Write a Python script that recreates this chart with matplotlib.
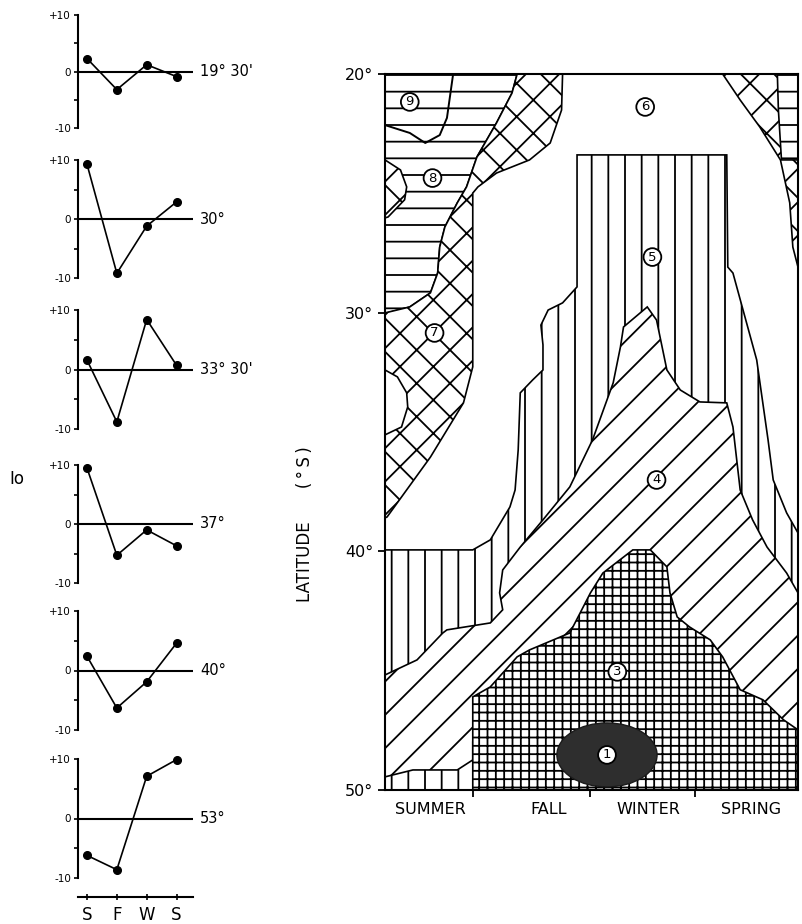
import matplotlib.pyplot as plt
from matplotlib.patches import Ellipse

plt.rcParams['font.family'] = 'DejaVu Sans'
plt.rcParams['hatch.linewidth'] = 1.3

W, H = 803, 924

# ---- left column: Io anomaly by season at each latitude ----
season_ticks = ['S', 'F', 'W', 'S']
station_labels = ["19° 30'", "30°", "33° 30'", "37°", "40°", "53°"]
io_19_30 = [2.3, -3.2, 1.2, -0.9]
io_30 = [9.3, -9.2, -1.2, 2.9]
io_33_30 = [1.6, -8.8, 8.4, 0.7]
io_37 = [9.5, -5.3, -1.0, -3.7]
io_40 = [2.4, -6.3, -1.9, 4.6]
io_53 = [-6.2, -8.6, 7.1, 9.9]
io_series = [io_19_30, io_30, io_33_30, io_37, io_40, io_53]

# ---- right panel: zones in (season position, latitude) ----
season_names = ['SUMMER', 'FALL', 'WINTER', 'SPRING']
season_name_pos = [0.44, 1.58, 2.55, 3.55]
season_bounds = [0.85, 1.99, 3.0]
lat_ticks = [20, 30, 40, 50]

zone_89_x = [0, 1.28, 1.23, 1.08, 0.89, 0.79, 0.70, 0.58, 0.53, 0.51, 0.44, 0.24, 0.02, 0]
zone_89_y = [20, 20, 20.8, 22.05, 23.48, 24.73, 25.40, 26.41, 27.25, 28.34, 29.17, 29.76, 30.01, 30.01]

zone_9_edge_x = [0, 0.24, 0.39, 0.53, 0.60, 0.66]
zone_9_edge_y = [22.14, 22.47, 22.89, 22.56, 21.84, 20.0]

zone_7_x = [1.28, 1.23, 1.08, 0.89, 0.79, 0.70, 0.58, 0.53, 0.51, 0.44, 0.24, 0, 0,
            0.02, 0.44, 0.76, 0.85, 0.85, 0.90, 1.08, 1.40, 1.60, 1.71, 1.72]
zone_7_y = [20, 20.8, 22.05, 23.48, 24.73, 25.40, 26.41, 27.25, 28.34, 29.17, 29.76, 30.01, 38.6,
            38.56, 36.05, 33.78, 32.27, 24.99, 24.73, 24.15, 23.60, 22.89, 21.51, 20]

lens_7_x = [0, 0.15, 0.21, 0.19, 0.03, 0]
lens_7_y = [23.6, 24.02, 24.73, 25.27, 25.99, 26.03]

gap_7_x = [0, 0.12, 0.21, 0.22, 0.16, 0]
gap_7_y = [32.4, 32.69, 33.36, 33.95, 34.79, 35.12]

corner_x = [3.27, 4, 4, 3.95, 3.92, 3.83, 3.63, 3.44]
corner_y = [20, 20, 28.09, 27.25, 25.40, 23.60, 22.22, 21.09]
corner_strip_x = [3.80, 4, 4, 3.84, 3.81]
corner_strip_y = [20, 20, 23.6, 23.6, 21.5]

zone_5_x = [1.86, 3.31, 3.32, 3.37, 3.60, 3.71, 3.76, 3.89, 4.0, 4.0, 0, 0, 0.85, 1.02,
            1.21, 1.26, 1.29, 1.31, 1.43, 1.53, 1.53, 1.51, 1.58, 1.72, 1.86]
zone_5_y = [23.39, 23.39, 28.09, 28.34, 31.98, 35.33, 37.01, 38.39, 39.23, 50, 50, 39.94, 39.94, 39.52,
            38.14, 37.43, 35.75, 33.36, 32.82, 32.40, 31.35, 30.52, 29.89, 29.59, 28.92]

zone_4_x = [2.54, 2.63, 2.73, 2.86, 3.05, 3.31, 3.37, 3.44, 3.56, 3.70, 3.89, 4.0, 4.0,
            0.85, 0.85, 0.70, 0.27, 0, 0, 0.31, 0.56, 0.60, 1.02, 1.14, 1.11, 1.14,
            1.31, 1.53, 1.79, 2.01, 2.21, 2.28, 2.31]
zone_4_y = [29.76, 30.31, 32.40, 33.24, 33.74, 33.78, 34.79, 37.43, 38.68, 39.82, 40.91, 41.74, 48.0,
            48.0, 48.74, 49.16, 49.16, 49.45, 45.18, 44.55, 43.42, 43.29, 43.0, 42.45, 41.74, 40.78,
            39.82, 38.68, 37.30, 35.33, 32.94, 31.44, 30.60]

zone_3_x = [0.85, 0.85, 1.02, 1.28, 1.40, 1.79, 1.99, 2.11, 2.40, 2.57, 2.73, 2.76, 2.83,
            2.95, 3.15, 3.27, 3.44, 3.66, 3.86, 4.0, 4.0]
zone_3_y = [50, 46.10, 45.68, 44.42, 44.13, 43.42, 41.74, 40.91, 39.94, 39.94, 40.65, 41.74, 42.75,
            43.17, 43.71, 44.42, 45.80, 46.22, 47.06, 47.48, 50]

zone_1_center = (2.15, 48.53)
zone_1_size = (0.97, 2.68)

zone_ids = ['9', '8', '7', '6', '5', '4', '3', '1']
zone_id_x = [0.24, 0.46, 0.48, 2.52, 2.59, 2.63, 2.25, 2.15]
zone_id_y = [21.17, 24.36, 30.85, 21.38, 27.67, 37.01, 45.05, 48.53]


def px_box(left, top, right, bottom):
    return [left / W, 1 - bottom / H, (right - left) / W, (bottom - top) / H]


fig = plt.figure(figsize=(W / 100, H / 100), dpi=100)

panel_rows = [(15, 128), (160, 278), (310, 429), (465, 583), (611, 730), (759, 878)]
for i, (top, bottom) in enumerate(panel_rows):
    ax = fig.add_axes(px_box(78, top, 193, bottom))
    ax.set_xlim(-0.3, 3.55)
    ax.set_ylim(-10, 10)
    ax.axhline(0, color='black', lw=1.5)
    ax.plot(range(4), io_series[i], color='black', lw=1.2, marker='o', ms=5.5, clip_on=False)
    for side in ['top', 'right']:
        ax.spines[side].set_visible(False)
    ax.spines['left'].set_linewidth(1.5)
    ax.set_yticks([-10, 0, 10])
    ax.set_yticklabels(['-10', '0', '+10'], fontsize=7.5)
    ax.set_yticks([-5, 5], minor=True)
    ax.tick_params(axis='y', which='both', direction='out', length=3, width=1.2, pad=2)
    ax.annotate(station_labels[i], (1.06, 0), xycoords=('axes fraction', 'data'),
                ha='left', va='center', fontsize=10.5)
    if i < len(panel_rows) - 1:
        ax.spines['bottom'].set_visible(False)
        ax.set_xticks([])
    else:
        ax.spines['bottom'].set_position(('outward', 14))
        ax.spines['bottom'].set_linewidth(1.5)
        ax.set_xticks(range(4))
        ax.set_xticklabels(season_ticks, fontsize=12)
        ax.tick_params(axis='x', direction='inout', length=5, width=1.2, pad=4)

fig.text(17 / W, 1 - 479 / H, 'Io', fontsize=12, ha='center', va='center')

# ---- zone map ----
ax = fig.add_axes(px_box(385, 74, 798, 790))
ax.set_xlim(0, 4)
ax.set_ylim(50, 20)

def zone(xs, ys, hatch):
    ax.fill(xs, ys, facecolor='white', edgecolor='black', hatch=hatch, lw=1.2)

zone(zone_89_x, zone_89_y, '-')
zone(zone_7_x, zone_7_y, 'x')
zone(lens_7_x, lens_7_y, 'x')
zone(gap_7_x, gap_7_y, None)
ax.plot(zone_9_edge_x, zone_9_edge_y, color='black', lw=1.4)
zone(corner_x, corner_y, 'x')
zone(corner_strip_x, corner_strip_y, '-')
zone(zone_5_x, zone_5_y, '|')
zone(zone_4_x, zone_4_y, '/')
zone(zone_3_x, zone_3_y, '++')
ax.add_patch(Ellipse(zone_1_center, zone_1_size[0], zone_1_size[1], angle=0,
                     facecolor='#2e2e2e', edgecolor='#1a1a1a', lw=1))

for label, x, y in zip(zone_ids, zone_id_x, zone_id_y):
    ax.text(x, y, label, ha='center', va='center', fontsize=9.5,
            bbox=dict(boxstyle='circle,pad=0.18', fc='white', ec='black', lw=1.3))

for side in ax.spines:
    ax.spines[side].set_linewidth(1.5)
ax.set_yticks(lat_ticks)
ax.set_yticklabels([f'{v}°' for v in lat_ticks], fontsize=11.5)
ax.set_xticks(season_bounds)
ax.set_xticklabels([])
ax.tick_params(direction='out', length=5, width=1.3)
for name, x in zip(season_names, season_name_pos):
    ax.annotate(name, (x, 0), xycoords=('data', 'axes fraction'), xytext=(0, -9),
                textcoords='offset points', ha='center', va='top', fontsize=11.5)

fig.text(305 / W, 1 - 524 / H, 'LATITUDE\u2003\u2003(\u2009°\u2009S\u2009)',
         rotation=90, ha='center', va='center', fontsize=12)

fig.savefig('out.png', dpi=100)
